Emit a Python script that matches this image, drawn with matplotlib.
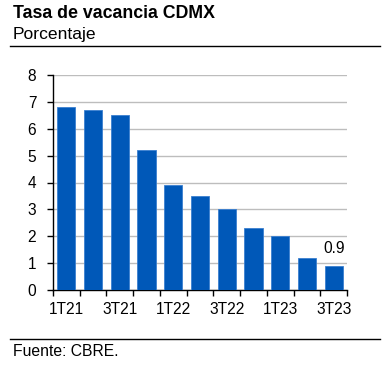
import matplotlib
matplotlib.use("Agg")
import matplotlib.pyplot as plt
import numpy as np
from matplotlib.lines import Line2D

plt.rcParams['font.family'] = ['Liberation Sans', 'DejaVu Sans']

categories = ["1T21", "2T21", "3T21", "4T21", "1T22", "2T22", "3T22", "4T22", "1T23", "2T23", "3T23"]
values = [6.8, 6.7, 6.5, 5.2, 3.9, 3.5, 3.0, 2.3, 2.0, 1.2, 0.9]
shown_labels = ["1T21", "3T21", "1T22", "3T22", "1T23", "3T23"]
yticks = [0, 1, 2, 3, 4, 5, 6, 7, 8]

W, H = 387, 367
fig = plt.figure(figsize=(W/100, H/100), dpi=100)
ax = fig.add_axes([53/W, 1-290/H, (347-53)/W, (290-75)/H])

x = np.arange(len(categories))
ax.bar(x, values, width=0.68, color='#0058b8', edgecolor='#3a7fd0', linewidth=0.6, zorder=3)

ax.set_xlim(-0.5, len(categories)-0.5)
ax.set_ylim(0, 8)
ax.set_yticks(yticks)
ax.set_yticklabels([str(v) for v in yticks], fontsize=11.2)
ax.yaxis.grid(True, color='#bdbdbd', linewidth=1.0, zorder=0)
ax.set_axisbelow(True)

# major ticks at category boundaries, labels at bar centers
ax.set_xticks(np.arange(-0.5, len(categories), 1.0))
ax.set_xticklabels([])
ax.set_xticks([x[categories.index(l)] for l in shown_labels], minor=True)
ax.set_xticklabels(shown_labels, minor=True, fontsize=11.2)
ax.tick_params(axis='x', which='major', direction='out', length=4, width=1, color='black')
ax.tick_params(axis='x', which='minor', length=0, pad=9)
ax.tick_params(axis='y', direction='out', length=4, width=1, pad=8)

for s in ['top', 'right']:
    ax.spines[s].set_visible(False)
for s in ['left', 'bottom']:
    ax.spines[s].set_color('black')
    ax.spines[s].set_linewidth(1.0)

ax.annotate(f"{values[-1]}", xy=(x[-1], values[-1]), xytext=(0, 7), textcoords='offset points',
            ha='center', va='bottom', fontsize=11.2)

fig.text(13/W, 1-13/H, "Tasa de vacancia CDMX", fontsize=12.8, fontweight='bold', va='center', ha='left')
fig.text(13/W, 1-34/H, "Porcentaje", fontsize=12.6, va='center', ha='left')
fig.add_artist(Line2D([10/W, 380/W], [1-46/H, 1-46/H], color='black', linewidth=1.0, transform=fig.transFigure))
fig.add_artist(Line2D([10/W, 380/W], [1-339/H, 1-339/H], color='black', linewidth=1.0, transform=fig.transFigure))
fig.text(13/W, 1-352/H, "Fuente: CBRE.", fontsize=11.3, va='center', ha='left')

fig.savefig("out.png", dpi=100)
